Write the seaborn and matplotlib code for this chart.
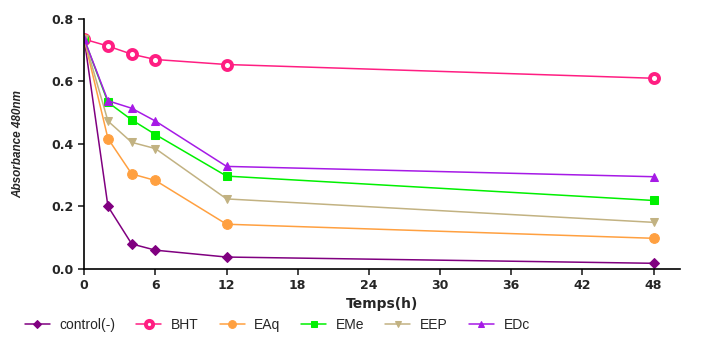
import pandas as pd
import seaborn as sns
import matplotlib.pyplot as plt

temps = [0, 2, 4, 6, 12, 48]
control = [0.735, 0.200, 0.080, 0.060, 0.038, 0.018]
bht = [0.735, 0.713, 0.687, 0.670, 0.654, 0.610]
eaq = [0.735, 0.417, 0.304, 0.283, 0.143, 0.098]
eme = [0.735, 0.533, 0.477, 0.430, 0.297, 0.219]
eep = [0.735, 0.473, 0.405, 0.385, 0.224, 0.149]
edc = [0.735, 0.538, 0.514, 0.473, 0.328, 0.295]

series = {'control(-)': control, 'BHT': bht, 'EAq': eaq,
          'EMe': eme, 'EEP': eep, 'EDc': edc}
rows = []
for nom, vals in series.items():
    for t, v in zip(temps, vals):
        rows.append({'Temps': t, 'Abs': v, 'groupe': nom})
df = pd.DataFrame(rows)

couleurs = {'control(-)': '#800080', 'BHT': '#FF1E82', 'EAq': '#FFA040',
            'EMe': '#00F000', 'EEP': '#C2B282', 'EDc': '#A61AE6'}
marqueurs = {'control(-)': 'D', 'BHT': 'o', 'EAq': 'o',
             'EMe': 's', 'EEP': 'v', 'EDc': '^'}
tailles = {'control(-)': 5.5, 'BHT': 7, 'EAq': 7, 'EMe': 5.5, 'EEP': 5.5, 'EDc': 5.5}

sns.set_style('ticks')
plt.rcParams['font.family'] = ['Liberation Sans', 'DejaVu Sans']

fig = plt.figure(figsize=(7.2, 3.37), dpi=100)
ax = fig.add_axes([0.117, 0.202, 0.827, 0.742])

for nom in series:
    d = df[df['groupe'] == nom]
    kw = dict(marker=marqueurs[nom], markersize=tailles[nom],
              markeredgecolor=couleurs[nom], linewidth=1.1)
    if nom == 'BHT':
        kw.update(markerfacecolor='white', markeredgewidth=2.8, markersize=6.5)
    sns.lineplot(data=d, x='Temps', y='Abs', color=couleurs[nom], label=nom,
                 ax=ax, legend=False, **kw)

ax.set_xlim(0, 50.2)
ax.set_ylim(0, 0.8)
ax.set_xticks(range(0, 49, 6))
ax.set_yticks([0.0, 0.2, 0.4, 0.6, 0.8])
ax.set_yticklabels(['0.0', '0.2', '0.4', '0.6', '0.8'])
for lab in ax.get_xticklabels() + ax.get_yticklabels():
    lab.set_fontweight('bold')
    lab.set_fontsize(9)
    lab.set_family('DejaVu Sans')
ax.tick_params(direction='out', length=4, width=1.2)
sns.despine(ax=ax)
for s in ['left', 'bottom']:
    ax.spines[s].set_linewidth(1.2)
    ax.spines[s].set_color('black')

ax.set_xlabel('Temps(h)', fontweight='bold', fontsize=10, labelpad=3,
              family='DejaVu Sans')
ax.set_ylabel('Absorbance 480nm', fontweight='bold', fontstyle='italic',
              fontsize=8.5, labelpad=20)

handles, labels = ax.get_legend_handles_labels()
fig.legend(handles, labels, loc='center', bbox_to_anchor=(0.385, 0.035), ncol=6,
           frameon=False, fontsize=10, handlelength=1.8, columnspacing=1.5,
           handletextpad=0.7, markerscale=0.8)

fig.savefig('out.png', dpi=100)
